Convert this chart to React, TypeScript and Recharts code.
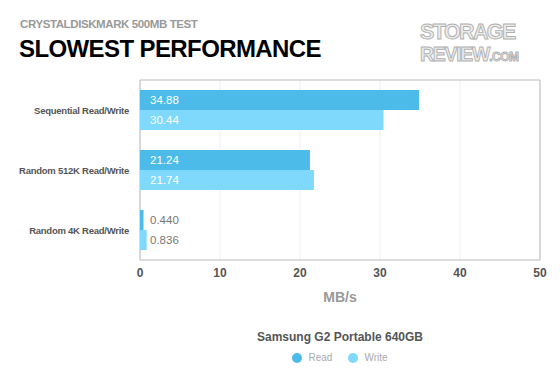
import React from 'react';
import { BarChart, Bar, XAxis, YAxis, CartesianGrid, ReferenceArea, LabelList } from 'recharts';

const categories = ['Sequential Read/Write', 'Random 512K Read/Write', 'Random 4K Read/Write'];
const readValues = [34.88, 21.24, 0.44];
const writeValues = [30.44, 21.74, 0.836];
const xTicks = [0, 10, 20, 30, 40, 50];

const READ = '#4dbbea';
const WRITE = '#7fd9fd';
const FONT = '"Liberation Sans", Arial, Helvetica, sans-serif';

const data = categories.map((name, i) => ({ name, read: readValues[i], write: writeValues[i] }));

const fmt = (v: number) => (v < 1 ? v.toFixed(3) : v.toFixed(2));

// label always sits near the left edge; white inside a wide bar, grey otherwise
const BarLabel = (props: any) => {
  const { x, y, width, height, value } = props;
  const inside = width > 40;
  return (
    <text
      x={x + 10}
      y={y + height / 2}
      dy={4}
      fontSize={11.5}
      fontFamily={FONT}
      fill={inside ? '#ffffff' : '#777777'}
    >
      {fmt(value)}
    </text>
  );
};

// single-line category label, right aligned
const CatTick = (props: any) => {
  const { y, payload } = props;
  return (
    <text x={129} y={y} dy={4} textAnchor="end" fontSize={9.5} letterSpacing={-0.25} fontWeight="bold" fill="#555" fontFamily={FONT}>
      {payload.value}
    </text>
  );
};

const LegendBox = () => (
  <div style={{ position: 'absolute', left: 140, top: 330, width: 400, fontFamily: FONT, textAlign: 'center' }}>
    <div style={{ fontSize: 12, fontWeight: 'bold', color: '#555' }}>Samsung G2 Portable 640GB</div>
    <div style={{ marginTop: 8, fontSize: 10, color: '#aaa', display: 'flex', justifyContent: 'center', gap: 16 }}>
      <span style={{ display: 'flex', alignItems: 'center' }}>
        <span style={{ width: 10, height: 10, borderRadius: 5, background: READ, marginRight: 6 }} />
        Read
      </span>
      <span style={{ display: 'flex', alignItems: 'center' }}>
        <span style={{ width: 10, height: 10, borderRadius: 5, background: WRITE, marginRight: 6 }} />
        Write
      </span>
    </div>
  </div>
);

export default function App() {
  return (
    <div style={{ position: 'absolute', left: 0, top: 0, width: 560, height: 380, background: '#fff', fontFamily: FONT }}>
      <div style={{ position: 'absolute', left: 20, top: 18, fontSize: 11.5, fontWeight: 'bold', color: '#999', letterSpacing: -0.4 }}>
        CRYSTALDISKMARK 500MB TEST
      </div>
      <div style={{ position: 'absolute', left: 19, top: 35, fontSize: 24, fontWeight: 'bold', color: '#000', letterSpacing: -0.6 }}>
        SLOWEST PERFORMANCE
      </div>
      {/* logo */}
      <svg style={{ position: 'absolute', left: 416, top: 16 }} width={130} height={50}>
        <text x={4} y={23} fontSize={21.5} letterSpacing={-1.6} fontWeight="bold" fontFamily={FONT} fill="#ececec" stroke="#b0b0b0" strokeWidth={0.9}>
          STORAGE
        </text>
        <text x={4} y={45} fontSize={19.5} letterSpacing={-1.3} fontWeight="bold" fontFamily={FONT} fill="#ececec" stroke="#b0b0b0" strokeWidth={0.9}>
          REVIEW<tspan fontSize={12} letterSpacing={-0.5}>.COM</tspan>
        </text>
      </svg>
      <BarChart
        width={560}
        height={380}
        data={data}
        layout="vertical"
        margin={{ top: 80, right: 20, bottom: 90, left: 0 }}
        barCategoryGap={10}
        barGap={0}
        style={{ position: 'absolute', left: 0, top: 0 }}
      >
        <CartesianGrid horizontal={false} stroke="#eeeeee" />
        <ReferenceArea x1={0} x2={50} fill="none" stroke="#bbbbbb" strokeWidth={1} fillOpacity={0} />
        <XAxis
          type="number"
          domain={[0, 50]}
          ticks={xTicks}
          axisLine={false}
          tickLine={false}
          height={30}
          tick={{ fontSize: 12, fill: '#555', fontFamily: FONT, fontWeight: 'bold' }}
          label={{ value: 'MB/s', position: 'insideBottom', offset: -12, fontSize: 14, fontWeight: 'bold', fill: '#999', fontFamily: FONT }}
        />
        <YAxis
          type="category"
          dataKey="name"
          width={140}
          axisLine={false}
          tickLine={false}
          tick={<CatTick />}
        />
        <Bar dataKey="read" name="Read" fill={READ} barSize={20} isAnimationActive={false}>
          <LabelList dataKey="read" content={BarLabel} />
        </Bar>
        <Bar dataKey="write" name="Write" fill={WRITE} barSize={20} isAnimationActive={false}>
          <LabelList dataKey="write" content={BarLabel} />
        </Bar>
      </BarChart>
      <LegendBox />
    </div>
  );
}
